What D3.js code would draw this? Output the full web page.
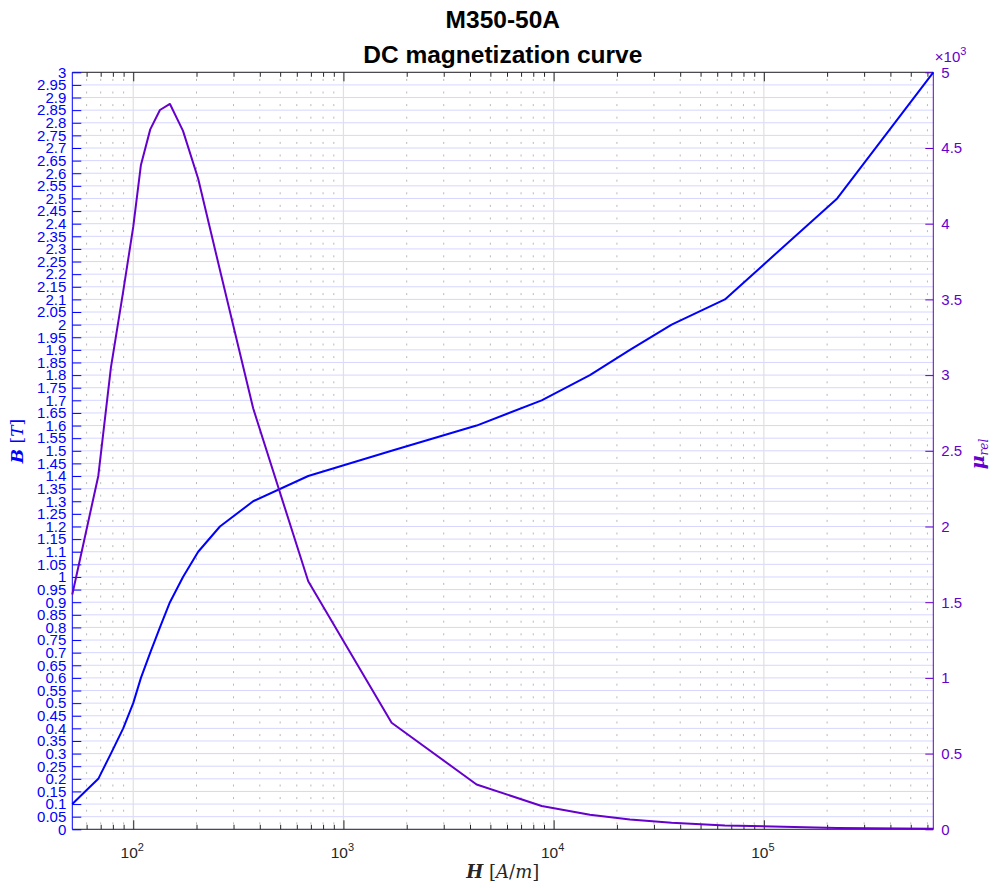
<!DOCTYPE html>
<html>
<head>
<meta charset="utf-8">
<script src="https://cdn.jsdelivr.net/npm/d3@7"></script>
<style>
  html, body { margin: 0; padding: 0; background: #ffffff; }
  svg { display: block; }
</style>
</head>
<body>
<svg id="chart" width="993" height="888"></svg>
<script>
// M350-50A DC magnetization curve: flux density B and relative permeability vs field strength H
const H_Am = [51.3, 68.2, 78.3, 89.6, 100, 108.8, 120.5, 134, 149.5, 172.5, 203.7, 258.5,
              372, 680, 1695, 4300, 8770, 14880, 23070, 36420, 65300, 223400, 640000];
const B_T  = [0.1, 0.2, 0.3, 0.4, 0.5, 0.6, 0.7, 0.8, 0.9, 1.0, 1.1, 1.2,
              1.3, 1.4, 1.5, 1.6, 1.7, 1.8, 1.9, 2.0, 2.1, 2.5, 3.0];
const muRel = [1551, 2334, 3049, 3553, 3979, 4388, 4623, 4751, 4791, 4613, 4297, 3694,
               2781, 1638, 704, 296, 154, 96.3, 65.5, 43.7, 25.6, 8.9, 3.73];

// axis ticks
const bTickLabels = ["0","0.05","0.1","0.15","0.2","0.25","0.3","0.35","0.4","0.45","0.5","0.55",
  "0.6","0.65","0.7","0.75","0.8","0.85","0.9","0.95","1","1.05","1.1","1.15","1.2","1.25","1.3",
  "1.35","1.4","1.45","1.5","1.55","1.6","1.65","1.7","1.75","1.8","1.85","1.9","1.95","2","2.05",
  "2.1","2.15","2.2","2.25","2.3","2.35","2.4","2.45","2.5","2.55","2.6","2.65","2.7","2.75","2.8",
  "2.85","2.9","2.95","3"];
const muTickLabels = ["0","0.5","1","1.5","2","2.5","3","3.5","4","4.5","5"];
const muTickScale = 1000;
const hDecades = [2, 3, 4, 5];

const colB = "#0000ff";
const colMu = "#6600cc";
const colAx = "#262626";
const sans = "Liberation Sans, Arial, sans-serif";
const serif = "DejaVu Serif, Liberation Serif, serif";

const svg = d3.select("#chart");
const L = 72.3, R = 933.3, T = 72.3, Bot = 829.3;

const x = d3.scaleLog().domain(d3.extent(H_Am)).range([L, R]);
const yB = d3.scaleLinear().domain([0, 3]).range([Bot, T]);
const yMu = d3.scaleLinear().domain([0, 5000]).range([Bot, T]);

const bTicks = bTickLabels.map(Number);
const muTicks = muTickLabels.map(s => Number(s) * muTickScale);

// minor log ticks inside the visible range
const [x0, x1] = x.domain();
const minorTicks = [];
for (let e = 1; e <= 5; e++) {
  for (let m = 2; m <= 9; m++) {
    const v = m * Math.pow(10, e);
    if (v >= x0 && v <= x1) minorTicks.push(v);
  }
}
const majorTicks = hDecades.map(e => Math.pow(10, e));

// grid
const grid = svg.append("g");
grid.selectAll(".hg").data(bTicks).join("line")
  .attr("x1", L).attr("x2", R)
  .attr("y1", d => yB(d)).attr("y2", d => yB(d))
  .attr("stroke", "#d6d6ff").attr("stroke-width", 1);
grid.selectAll(".vmin").data(minorTicks).join("line")
  .attr("x1", d => x(d)).attr("x2", d => x(d))
  .attr("y1", Bot).attr("y2", T)
  .attr("stroke", "#b8b8b8").attr("stroke-width", 1)
  .attr("stroke-dasharray", "2,10.6").attr("stroke-dashoffset", -5);
grid.selectAll(".vmaj").data(majorTicks).join("line")
  .attr("x1", d => x(d)).attr("x2", d => x(d))
  .attr("y1", T).attr("y2", Bot)
  .attr("stroke", "#e0e0e0").attr("stroke-width", 1.2);

// top and bottom axes
const axB = svg.append("g").attr("transform", `translate(0,${Bot})`);
axB.call(d3.axisBottom(x).tickValues(majorTicks).tickSize(-9).tickFormat(""));
axB.append("g").call(d3.axisBottom(x).tickValues(minorTicks).tickSize(-4.5).tickFormat(""));
const axT = svg.append("g").attr("transform", `translate(0,${T})`);
axT.call(d3.axisTop(x).tickValues(majorTicks).tickSize(-9).tickFormat(""));
axT.append("g").call(d3.axisTop(x).tickValues(minorTicks).tickSize(-4.5).tickFormat(""));
[axB, axT].forEach(g => {
  g.selectAll("path").remove();
  g.selectAll("line").attr("stroke", colAx);
});
svg.append("line").attr("x1", L).attr("x2", R).attr("y1", Bot).attr("y2", Bot).attr("stroke", colAx);
svg.append("line").attr("x1", L).attr("x2", R).attr("y1", T).attr("y2", T).attr("stroke", colAx);

// x tick labels as powers of ten
const xl = svg.append("g").attr("font-family", sans).attr("fill", colAx);
hDecades.forEach(e => {
  const t = xl.append("text").attr("x", x(Math.pow(10, e)) - 1).attr("y", 858)
    .attr("text-anchor", "middle").attr("font-size", 15.5);
  t.append("tspan").text("10");
  t.append("tspan").attr("dy", -7.5).attr("font-size", 11).text(String(e));
});

// left axis (B)
const axL = svg.append("g").attr("transform", `translate(${L},0)`)
  .call(d3.axisLeft(yB).tickValues(bTicks).tickSize(-9).tickPadding(6)
    .tickFormat((d, i) => bTickLabels[i]));
axL.select("path").remove();
axL.selectAll("line").attr("stroke", colB);
axL.selectAll("text").attr("fill", colB).attr("font-size", 15).attr("font-family", sans);
svg.append("line").attr("x1", L).attr("x2", L).attr("y1", T).attr("y2", Bot).attr("stroke", colB);

// right axis (mu_rel, x10^3)
const axR = svg.append("g").attr("transform", `translate(${R},0)`)
  .call(d3.axisRight(yMu).tickValues(muTicks).tickSize(-8).tickPadding(8)
    .tickFormat((d, i) => muTickLabels[i]));
axR.select("path").remove();
axR.selectAll("line").attr("stroke", colMu);
axR.selectAll("text").attr("fill", colMu).attr("font-size", 15).attr("font-family", sans);
svg.append("line").attr("x1", R).attr("x2", R).attr("y1", T).attr("y2", Bot).attr("stroke", colMu);

const exp = svg.append("text").attr("x", R + 1.5).attr("y", 62)
  .attr("fill", colMu).attr("font-size", 15).attr("font-family", sans);
exp.append("tspan").text("\u00d710");
exp.append("tspan").attr("dy", -7.5).attr("font-size", 11).text("3");

// curves
const lineB = d3.line().x((d, i) => x(H_Am[i])).y(d => yB(d));
const lineMu = d3.line().x((d, i) => x(H_Am[i])).y(d => yMu(d));
svg.append("path").datum(B_T).attr("d", lineB)
  .attr("fill", "none").attr("stroke", colB).attr("stroke-width", 2).attr("stroke-linejoin", "round");
svg.append("path").datum(muRel).attr("d", lineMu)
  .attr("fill", "none").attr("stroke", colMu).attr("stroke-width", 2).attr("stroke-linejoin", "round");

// axis titles
const xt = svg.append("text").attr("x", (L + R) / 2).attr("y", 878)
  .attr("text-anchor", "middle").attr("font-family", serif).attr("font-size", 18).attr("fill", colAx);
xt.append("tspan").attr("font-weight", "bold").attr("font-style", "italic").text("H");
xt.append("tspan").text(" [");
xt.append("tspan").attr("font-style", "italic").text("A");
xt.append("tspan").text("/");
xt.append("tspan").attr("font-style", "italic").text("m");
xt.append("tspan").text("]");

const yt = svg.append("text").attr("transform", "translate(23,441) rotate(-90)")
  .attr("text-anchor", "middle").attr("font-family", serif).attr("font-size", 17).attr("fill", colB);
yt.append("tspan").attr("font-weight", "bold").attr("font-style", "italic").text("B");
yt.append("tspan").text(" [");
yt.append("tspan").attr("font-style", "italic").text("T");
yt.append("tspan").text("]");

const yr = svg.append("text").attr("transform", "translate(984,454) rotate(-90)")
  .attr("text-anchor", "middle").attr("font-family", serif).attr("font-size", 19).attr("fill", colMu);
yr.append("tspan").attr("font-weight", "bold").attr("font-style", "italic").text("\u03bc");
yr.append("tspan").attr("font-style", "italic").attr("font-size", 12).attr("dy", 4).text("rel");

// titles
const tt = svg.append("g").attr("font-family", sans)
  .attr("font-weight", "bold").attr("font-size", 24.5).attr("fill", "#000").attr("text-anchor", "middle");
tt.append("text").attr("x", (L + R) / 2).attr("y", 28).text("M350-50A");
tt.append("text").attr("x", (L + R) / 2).attr("y", 63).text("DC magnetization curve");
</script>
</body>
</html>
